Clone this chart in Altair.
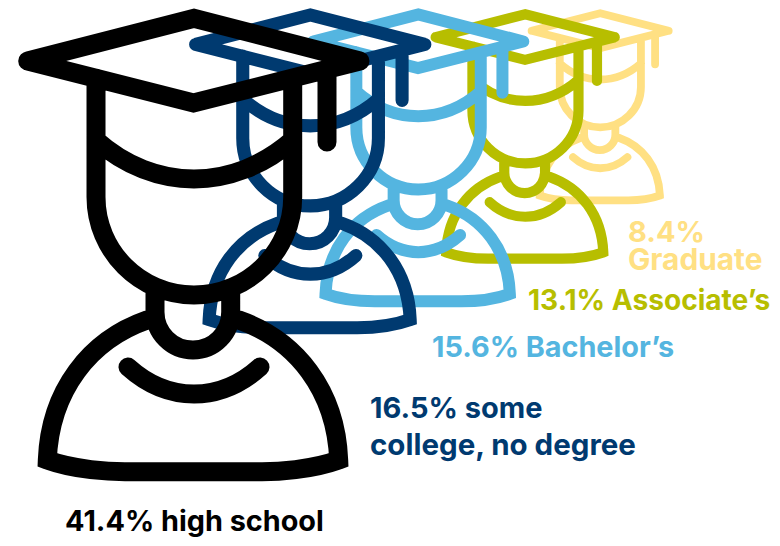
import re
import altair as alt
import pandas as pd

# Chart values
categories = ["Graduate", "Associate's", "Bachelor's", "Some college", "High school"]
shares = [8.4, 13.1, 15.6, 16.5, 41.4]
colors = ["#FFE083", "#B7BE00", "#54B5E0", "#003A70", "#000000"]

# Text labels
label_lines = ["41.4% high school", "16.5% some", "college, no degree",
               "15.6% Bachelor\u2019s", "13.1% Associate\u2019s", "8.4%", "Graduate"]
label_groups = ["High school", "Some college", "Some college",
                "Bachelor's", "Associate's", "Graduate", "Graduate"]

# Layout (page pixels, not data)
icon_half_widths = [68.5, 89.5, 105, 114.5, 166]
icon_x = [600, 525, 418, 310, 193.5]
icon_y = [13.2, 14.2, 14.5, 15, 18.3]
icon_stroke = [7.8, 10.2, 12, 13.1, 19]
label_x = [65, 370, 370, 432, 528, 628, 628]
label_y = [531, 418, 455, 357, 310, 241.5, 270]
label_size = [28.8, 29, 29.5, 28.8, 28.1, 29, 29.8]
MARGIN = 8

# Icon glyph, sketched in the large icon's pixels, normalised to the symbol's unit box
GLYPH = """
M27.7 61 L194 18.3 L360 61 L193.5 103 Z
M27.7 61 L27.7 61 M360 61 L360 61
M96 78 L96 197 C96 251 140 295 194 295 C248 295 292.7 251 292.7 197 L292.7 78
M96 140 C125 166 160 179 194 179 C228 179 263 166 292.7 140
M327 69 L327 142
M155 289 L155 312 C155 333 172 350 193 350 C214 350 230.7 333 230.7 312 L230.7 289
M147 320 C90 340 50 390 47.3 460 C75 470 110 471.7 125 471.7 L262 471.7 C277 471.7 311 470 338.7 460 C336 390 296 340 239 320
M47.3 460 L47.3 460 M338.7 460 L338.7 460
M128 367 C148 385 170 394 194 394 C218 394 240 385 260 367
"""


def normalise(path, cx=193.5, cy=18.3, unit=166.0):
    out, is_x = [], True
    for tok in re.findall(r"[MLCZ]|-?\d+\.?\d*", path):
        if tok in "MLCZ":
            out.append(tok)
            is_x = True
        else:
            v = (float(tok) - (cx if is_x else cy)) / unit
            out.append(f"{v:.4f}")
            is_x = not is_x
    return " ".join(out)


shape = normalise(GLYPH)

icons = pd.DataFrame({
    "category": categories,
    "share": shares,
    "x": [v - MARGIN for v in icon_x],
    "y": [v - MARGIN for v in icon_y],
    "size": [(2 * h) ** 2 for h in icon_half_widths],
    "sw": icon_stroke,
})
labels = pd.DataFrame({
    "text": label_lines,
    "category": label_groups,
    "x": [v - MARGIN for v in label_x],
    "y": [v - MARGIN for v in label_y],
    "fs": label_size,
})

W, H = 764, 530
x_enc = alt.X("x:Q", scale=alt.Scale(domain=[0, W], range=[0, W], nice=False), axis=None)
y_enc = alt.Y("y:Q", scale=alt.Scale(domain=[0, H], range=[0, H], nice=False), axis=None)
color_scale = alt.Scale(domain=categories, range=colors)

icon_layer = alt.Chart(icons).mark_point(
    shape=shape, filled=False, strokeCap="round", strokeJoin="miter",
    strokeMiterLimit=3, opacity=1, clip=False,
).encode(
    x=x_enc, y=y_enc,
    size=alt.Size("size:Q", scale=None),
    strokeWidth=alt.StrokeWidth("sw:Q", scale=None),
    stroke=alt.Stroke("category:N", scale=color_scale, legend=None),
)

text_layer = alt.Chart(labels).mark_text(
    font="Inter", fontWeight=700, align="left", baseline="alphabetic",
).encode(
    x=x_enc, y=y_enc, text="text:N",
    size=alt.Size("fs:Q", scale=None),
    color=alt.Color("category:N", scale=color_scale, legend=None),
)

chart = alt.layer(icon_layer, text_layer).properties(
    width=W, height=H, padding=0, autosize=alt.AutoSizeParams(type="none"),
    background="white",
).configure_view(stroke=None)

chart.save("out.html", embed_options={"renderer": "svg", "actions": False})
